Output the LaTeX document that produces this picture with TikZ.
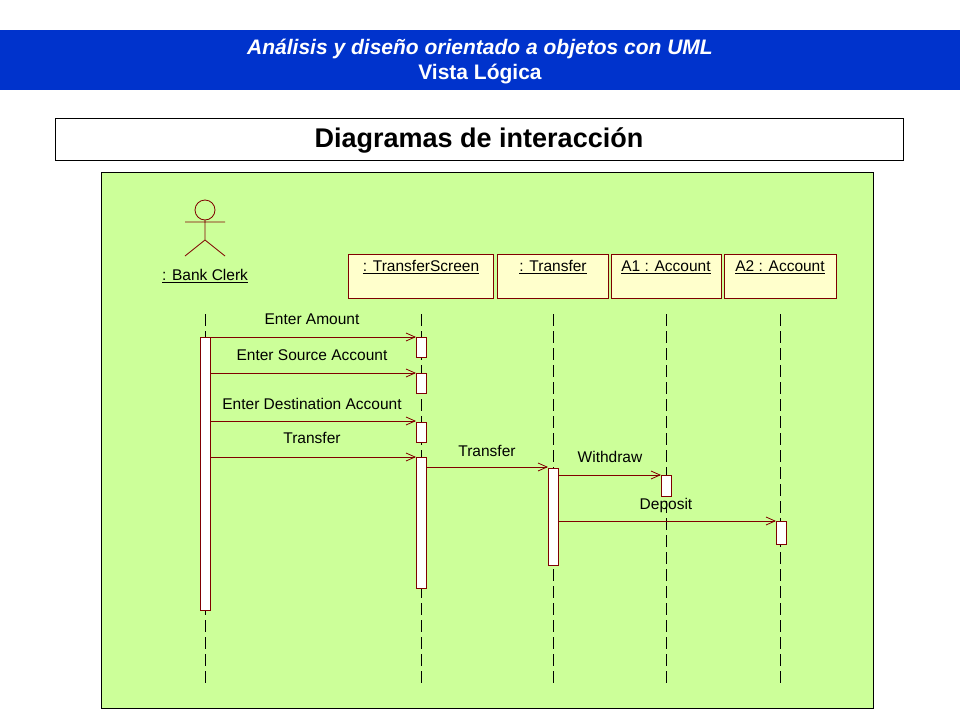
\documentclass[tikz,border=0pt]{standalone}
\usepackage{fontspec}
\setmainfont{Liberation Sans}
\usetikzlibrary{arrows.meta}
\definecolor{hdr}{RGB}{0,51,204}
\definecolor{bg}{RGB}{204,255,153}
\definecolor{dr}{RGB}{128,0,0}
\definecolor{obj}{RGB}{255,255,204}
\begin{document}
\begin{tikzpicture}[x=1pt,y=-1pt,
  lbl/.style={font=\fontsize{15.5}{17}\selectfont, inner sep=0pt},
  objbox/.style={draw=dr, fill=obj, line width=1pt},
  act/.style={draw=dr, fill=white, line width=1pt},
  life/.style={draw=black, dash pattern=on 12pt off 5pt, line width=0.8pt},
  msg/.style={draw=dr, line width=0.8pt, -{Straight Barb[length=9pt,width=8pt]}}]
\useasboundingbox (0,0) rectangle (960,720);
\fill[white] (0,0) rectangle (960,720);
\fill[hdr] (0,30) rectangle (960,90);
\node[text=white, font=\bfseries\itshape\fontsize{21}{24}\selectfont] (h1) at (480,49) {Análisis y diseño orientado a objetos con UML};
\node[text=white, font=\bfseries\fontsize{21}{24}\selectfont] (h2) at (480,74) {Vista Lógica};
\draw[line width=0.8pt] (55,118) rectangle (903,160);
\node[font=\bfseries\fontsize{27}{30}\selectfont] (t) at (479,140) {Diagramas de interacción};
\draw[fill=bg, line width=0.8pt] (101,172) rectangle (873,708);
% actor
\draw[dr, line width=0.8pt] (205,210) circle (10);
\draw[dr, line width=0.8pt] (205,220) -- (205,240) (185,222) -- (225,222) (185,256) -- (205,240) -- (225,256);
\node[lbl] (clerk) at (205,276) {\underline{: Bank Clerk}};
% objects
\draw[objbox] (348,254) rectangle (493,298);
\draw[objbox] (497,254) rectangle (608,298);
\draw[objbox] (611,254) rectangle (721,298);
\draw[objbox] (724,254) rectangle (836,298);
\node[lbl] (ots) at (421,267) {\underline{: TransferScreen}};
\node[lbl] (ot) at (553,267) {\underline{: Transfer}};
\node[lbl] (oa1) at (666,267) {\underline{A1 : Account}};
\node[lbl] (oa2) at (780,267) {\underline{A2 : Account}};
% lifelines
\foreach \x/\n in {205/c,421/s,553/t,666/a,780/b} {
  \coordinate (\n top) at (\x,314);
  \coordinate (\n bot) at (\x,684);
  \draw[life] (\n top) -- (\n bot);
}
% activations
\draw[act] (200,337) rectangle (210,610);
\draw[act] (416,337) rectangle (426,357);
\draw[act] (416,373) rectangle (426,393);
\draw[act] (416,422) rectangle (426,442);
\draw[act] (416,457) rectangle (426,588);
\draw[act] (548,468) rectangle (558,565);
\draw[act] (661,475) rectangle (671,496);
\draw[act] (776,521) rectangle (786,544);
% messages
\foreach \y/\t/\ly in {337/Enter Amount/319, 373/Enter Source Account/355, 421/Enter Destination Account/404, 457/Transfer/438} {
  \coordinate (m1) at (210,\y); \coordinate (m2) at (416,\y);
  \draw[msg] (m1) -- (m2);
  \node[lbl] at (312,\ly) {\t};
}
\coordinate (p1) at (426,467); \coordinate (p2) at (548,467);
\draw[msg] (p1) -- (p2); \node[lbl] at (487,451) {Transfer};
\coordinate (q1) at (558,475); \coordinate (q2) at (661,475);
\draw[msg] (q1) -- (q2); \node[lbl] at (610,457) {Withdraw};
\coordinate (r1) at (558,521); \coordinate (r2) at (776,521);
\draw[msg] (r1) -- (r2); \node[lbl] at (666,505) {Deposit};
\end{tikzpicture}
\end{document}
